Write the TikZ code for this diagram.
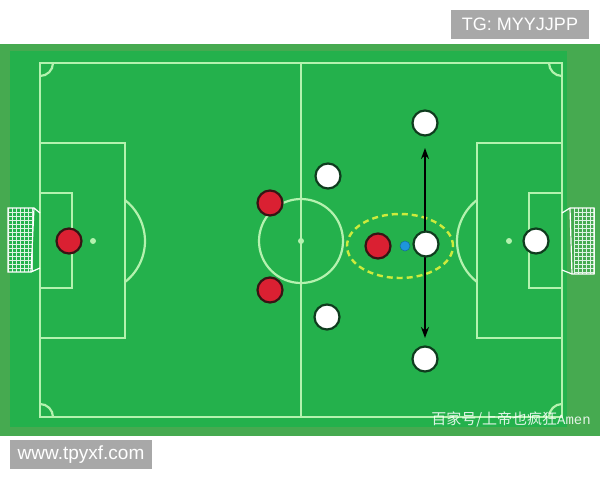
\documentclass[tikz,border=0pt]{standalone}
\usepackage{fontspec}
\setmainfont{Liberation Sans}
\newfontfamily\cjkf{Noto Sans CJK SC}
\newfontfamily\monof{Liberation Mono}
\usetikzlibrary{arrows.meta}
\definecolor{outerg}{RGB}{70,170,80}
\definecolor{innerg}{RGB}{36,177,76}
\definecolor{pline}{RGB}{180,242,175}
\definecolor{redfill}{RGB}{218,32,50}
\definecolor{rededge}{RGB}{55,20,20}
\definecolor{whiteedge}{RGB}{15,60,30}
\definecolor{ballc}{RGB}{30,150,220}
\definecolor{ellc}{RGB}{205,235,60}
\definecolor{boxgray}{RGB}{168,168,168}
\tikzset{
  pitch/.style={draw=pline, line width=2.2pt},
  netline/.style={draw=white!85!innerg, line width=0.5pt},
  frameline/.style={draw=white, line width=1.2pt},
  redp/.style={circle, fill=redfill, draw=rededge, line width=2.2pt, minimum size=25pt, inner sep=0pt},
  whitep/.style={circle, fill=white, draw=whiteedge, line width=2.2pt, minimum size=25pt, inner sep=0pt},
  ballp/.style={circle, fill=ballc, draw=ballc!70!black, line width=0.5pt, minimum size=10pt, inner sep=0pt},
  spot/.style={circle, fill=pline, minimum size=6pt, inner sep=0pt},
  graybox/.style={fill=boxgray, text=white, inner sep=0pt}
}
\begin{document}
\begin{tikzpicture}[x=1pt,y=-1pt]
\useasboundingbox (0,0) rectangle (600,480);
\fill[white] (0,0) rectangle (600,480);
\fill[outerg] (0,44) rectangle (600,436);
\fill[innerg] (10,51) rectangle (567,427);
% pitch lines
\draw[pitch] (40,63) rectangle (562,417);
\draw[pitch] (301,63) -- (301,417);
\draw[pitch] (301,241) circle[radius=42pt];
\draw[pitch] (40,143) rectangle (125,338);
\draw[pitch] (40,193) rectangle (72,288);
\draw[pitch] (477,143) rectangle (562,338);
\draw[pitch] (529,193) rectangle (562,288);
\draw[pitch] (125,282) arc[start angle=-52,end angle=52,radius=52pt];
\draw[pitch] (477,200) arc[start angle=128,end angle=232,radius=52pt];
\draw[pitch] (53,63) arc[start angle=0,end angle=-90,radius=13pt];
\draw[pitch] (549,63) arc[start angle=180,end angle=270,radius=13pt];
\draw[pitch] (40,404) arc[start angle=90,end angle=0,radius=13pt];
\draw[pitch] (549,417) arc[start angle=180,end angle=90,radius=13pt];
\node[spot] (cs) at (301,241) {};
\node[spot] (ls) at (93,241) {};
\node[spot] (rs) at (509,241) {};
% left goal
\foreach \xx in {8,12,...,32} \draw[netline] (\xx,208) -- (\xx,272);
\foreach \yy in {212,216,...,270} \draw[netline] (8,\yy) -- (32,\yy);
\draw[frameline] (40,213) -- (34,208) -- (8,208) -- (8,272) -- (31,272) -- (40,268);
\draw[frameline] (34,208) -- (31,272);
% right goal
\foreach \xx in {574,578,...,594} \draw[netline] (\xx,208) -- (\xx,274);
\foreach \yy in {212,216,...,272} \draw[netline] (574,\yy) -- (594,\yy);
\draw[frameline] (562,213) -- (570,208) -- (594,208) -- (594,274) -- (572,274) -- (562,270);
\draw[frameline] (570,208) -- (572,274);
% ellipse
\draw[ellc, line width=2.4pt, dash pattern=on 6pt off 4pt] (400,246) ellipse[x radius=53pt, y radius=32pt];
% arrow
\coordinate (atop) at (425,148);
\coordinate (abot) at (425,338);
\draw[black, line width=1.8pt, {Stealth[length=11pt,width=8pt]}-{Stealth[length=11pt,width=8pt]}] (atop) -- (abot);
% players
\node[redp] (rk) at (69,241) {};
\node[redp] (r1) at (270,203) {};
\node[redp] (r2) at (270,290) {};
\node[redp] (r3) at (378,246) {};
\node[whitep] (w1) at (328,176) {};
\node[whitep] (w2) at (327,317) {};
\node[whitep] (w3) at (425,123) {};
\node[whitep] (w4) at (426,244) {};
\node[whitep] (w5) at (425,359) {};
\node[whitep] (wk) at (536,241) {};
\node[ballp] (ball) at (405,246) {};
% texts
\node[graybox, minimum width=138pt, minimum height=29pt] (tg) at (520,24.5) {\fontsize{18}{18}\selectfont TG: MYYJJPP};
\node[graybox, minimum width=142pt, minimum height=29pt] (www) at (81,454.5) {\fontsize{19}{19}\selectfont www.tpyxf.com};
\node[anchor=east, text=white, text opacity=0.85, inner sep=0pt] (wm) at (591,419) {\cjkf\fontsize{15}{15}\selectfont 百家号/上帝也疯狂{\monof\fontsize{14}{14}\selectfont Amen}};
\end{tikzpicture}
\end{document}
